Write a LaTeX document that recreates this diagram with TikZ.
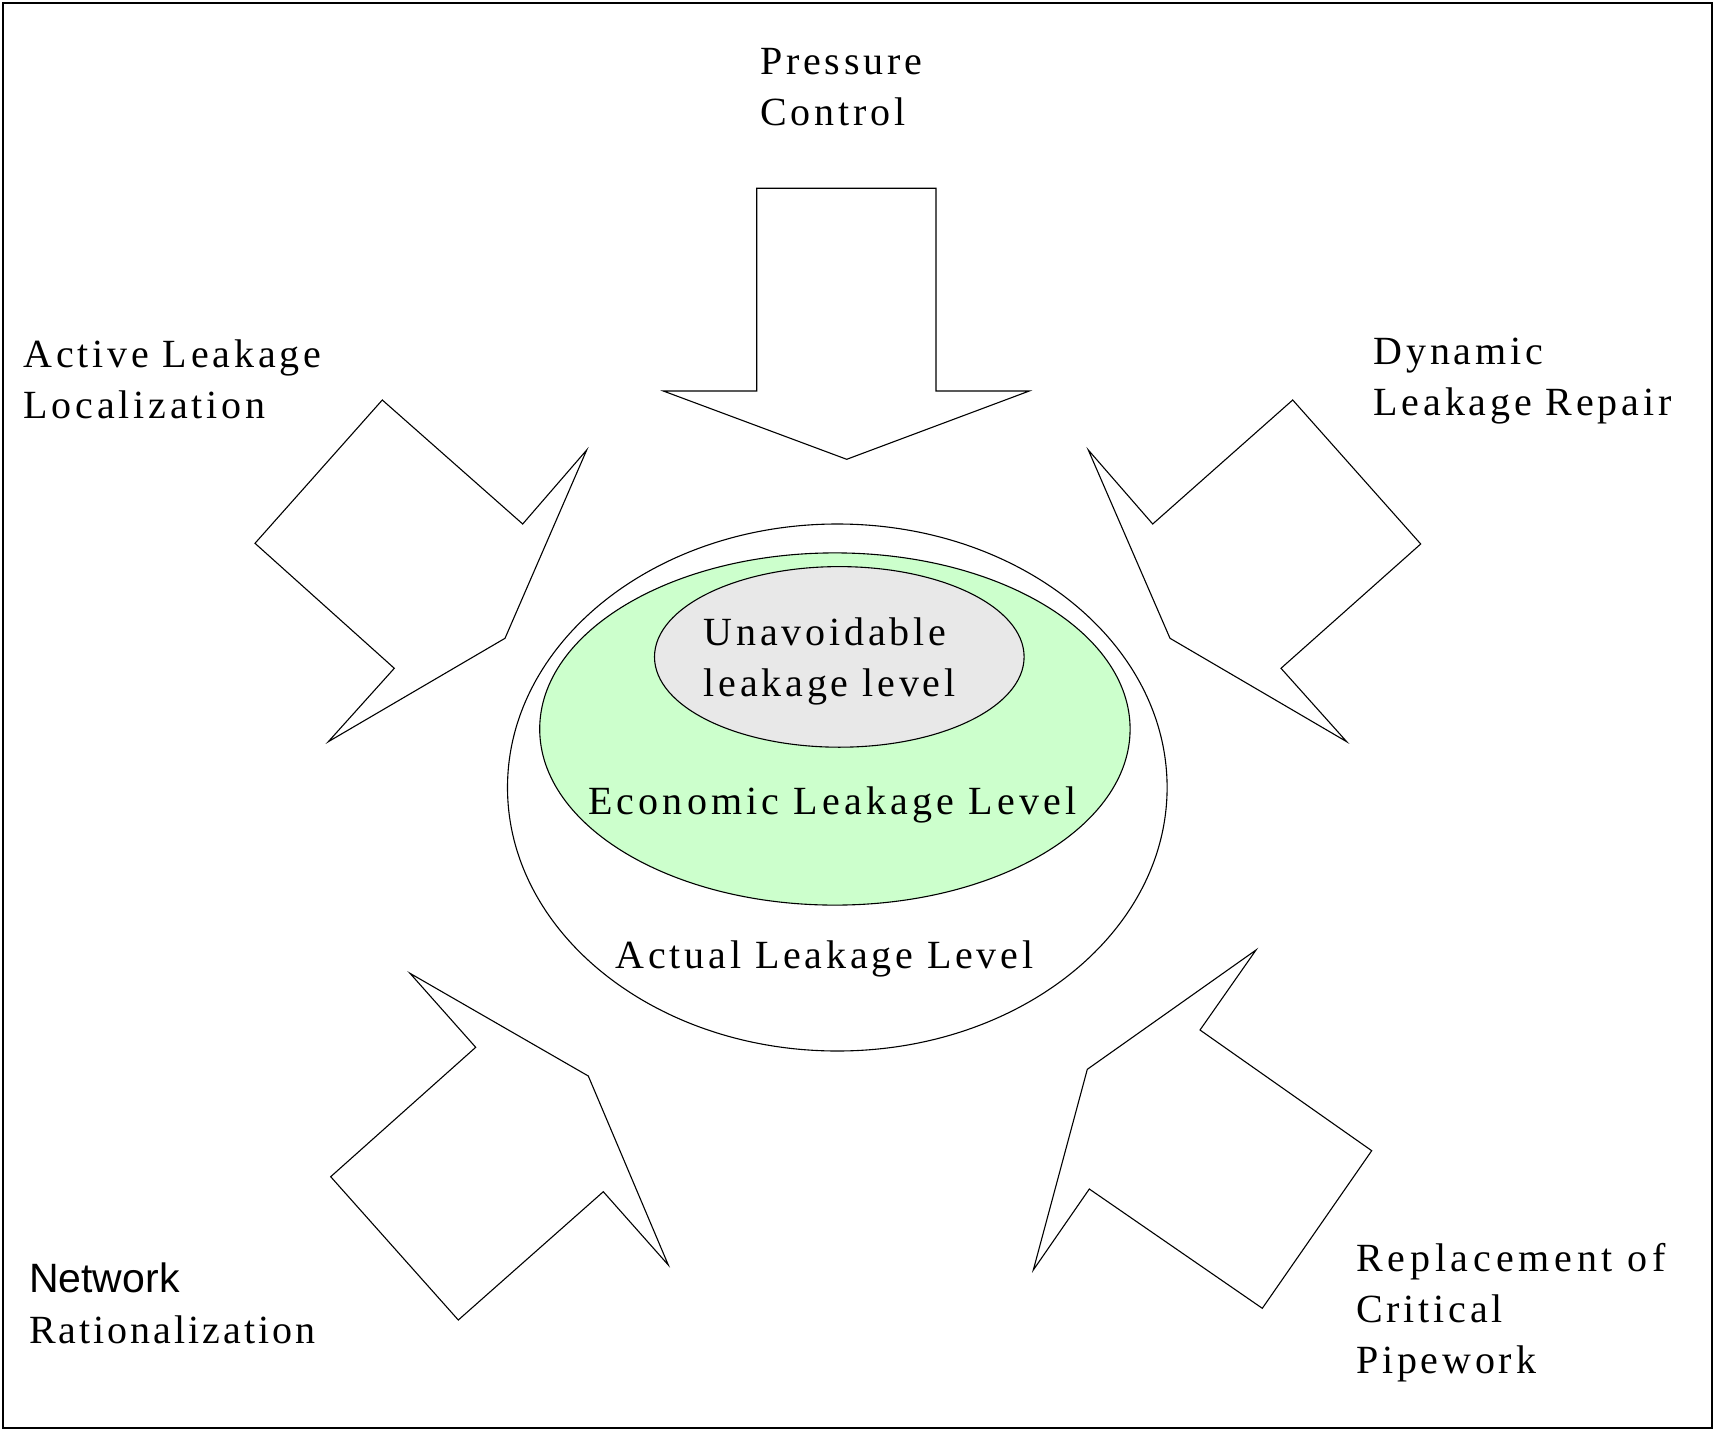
\documentclass[tikz,border=0pt]{standalone}
\usepackage{fontspec}
\setmainfont{Liberation Serif}[LetterSpace=9.5]
\newfontfamily\netsans{Liberation Sans}
\usetikzlibrary{shapes.geometric}
\definecolor{econgreen}{RGB}{204,255,204}
\definecolor{unavgray}{RGB}{232,232,232}
\tikzset{
  blockarrow/.style={draw=black, line width=1.1pt, line join=miter, fill=white},
  ring/.style={ellipse, draw=black, line width=1.1pt, inner sep=0pt},
  lbl/.style={anchor=base west, inner sep=0pt, align=left, font=\fontsize{40}{51}\selectfont}
}
\begin{document}
\begin{tikzpicture}[x=1pt,y=-1pt]
\useasboundingbox (0,0) rectangle (1715,1431);
\draw[line width=1.3pt] (3,3) rectangle (1712,1428);

% block arrows
\draw[blockarrow] (756.7,188.3) -- (936,188.3) -- (936,391) -- (1029.3,391) -- (846.7,459.3) -- (663.3,391) -- (756.7,391) -- cycle;
\draw[blockarrow] (255,543.3) -- (382.3,400) -- (522.7,524) -- (586.7,450) -- (505,638.3) -- (328.3,741.7) -- (394.3,668.3) -- cycle;
\draw[blockarrow] (1292.7,400) -- (1420.7,544) -- (1281,668.3) -- (1346.7,741.7) -- (1170,638.3) -- (1088.3,450) -- (1152.7,524) -- cycle;
\draw[blockarrow] (410,973.3) -- (475.7,1047.3) -- (330.7,1176.7) -- (458.3,1320) -- (603.3,1191.7) -- (668.3,1265) -- (588.3,1076) -- cycle;
\draw[blockarrow] (1256,950) -- (1200,1030) -- (1371.7,1150.7) -- (1262.3,1308.3) -- (1089.3,1189) -- (1033.3,1270) -- (1087.3,1069.3) -- cycle;

% ellipses
\node[ring, fill=white, minimum width=659.6pt, minimum height=527pt] (actual) at (837.3,787.5) {};
\node[ring, fill=econgreen, minimum width=590.4pt, minimum height=352.2pt] (econ) at (834.9,729) {};
\node[ring, fill=unavgray, minimum width=369.6pt, minimum height=180.6pt] (unav) at (839.3,656.9) {};

% texts (anchor = baseline of the last line)
\node[lbl] (tunav) at (703.6,696) {Unavoidable\\leakage level};
\node[lbl] (tecon) at (587.9,814.5) {\addfontfeature{LetterSpace=10.5}Economic Leakage Level};
\node[lbl] (tactual) at (615.4,968) {Actual Leakage Level};

\node[lbl] (tpress) at (760,125.8) {Pressure\\Control};
\node[lbl] (tactive) at (23.3,418.3) {Active Leakage\\Localization};
\node[lbl] (tdyn) at (1373.5,415) {Dynamic\\Leakage Repair};
\node[lbl] (tnet) at (29,1343.3) {{\netsans\fontsize{41}{51}\selectfont Network}\\{\addfontfeature{LetterSpace=7.5}Rationalization}};
\node[lbl] (trepl) at (1356,1373) {{\addfontfeature{LetterSpace=12}Replacement of}\\Critical\\Pipework};
\end{tikzpicture}
\end{document}
